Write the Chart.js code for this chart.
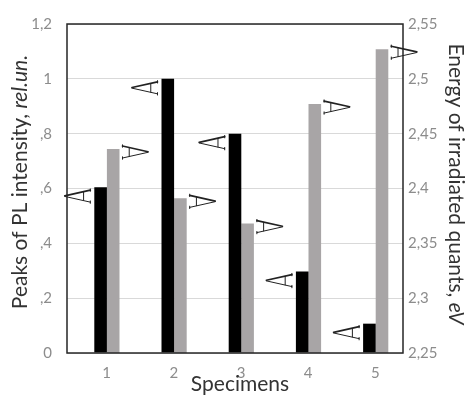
<!DOCTYPE html>
<html>
<head>
<meta charset="utf-8">
<script src="https://cdn.jsdelivr.net/npm/chart.js@4/dist/chart.umd.min.js"></script>
<style>
html,body{margin:0;padding:0;background:#fff;}
#c{display:block;}
</style>
</head>
<body>
<canvas id="c" width="471" height="397"></canvas>
<script>
// ---- data ----
const categories = ['1', '2', '3', '4', '5'];
const plIntensity = [0.605, 1.0, 0.80, 0.297, 0.107];      // left axis, black bars
const quantEnergy = [2.436, 2.391, 2.368, 2.477, 2.527];   // right axis, gray bars
const leftTickLabels = ['0', ',2', ',4', ',6', ',8', '1', '1,2'];
const rightTickLabels = ['2,25', '2,3', '2,35', '2,4', '2,45', '2,5', '2,55'];
const xTitle = 'Specimens';
const leftTitle = ['Peaks of PL intensity, ', 'rel.un.'];
const rightTitle = ['Energy of irradiated quants, ', 'eV'];

const FONT = 'Lato, "Open Sans", sans-serif';
const GRAY = '#a8a5a6';

function drawArrow(ctx, apexX, y, dir) {
  // dir = -1 : apex on the left ; dir = +1 : apex on the right
  const L = 24, h = 6;
  const bx = apexX - dir * L;
  const cx = apexX - dir * L * 0.72;
  ctx.save();
  ctx.strokeStyle = '#222222';
  ctx.lineCap = 'round';
  ctx.lineWidth = 1.7;
  ctx.beginPath();
  ctx.moveTo(apexX + dir * 1.5, y - 0.3);
  ctx.lineTo(bx, y - h);
  ctx.stroke();
  ctx.lineWidth = 1.0;
  ctx.beginPath();
  ctx.moveTo(apexX + dir * 1.5, y + 0.3);
  ctx.lineTo(bx, y + h);
  ctx.moveTo(cx, y - h * 0.72);
  ctx.lineTo(cx, y + h * 0.72);
  ctx.moveTo(bx, y - h - 1.2);
  ctx.lineTo(bx, y - h + 1.2);
  ctx.moveTo(bx, y + h - 1.2);
  ctx.lineTo(bx, y + h + 1.2);
  ctx.stroke();
  ctx.restore();
}

function drawMixed(ctx, parts, cx, cy, angle) {
  ctx.save();
  ctx.translate(cx, cy);
  ctx.rotate(angle);
  ctx.textAlign = 'left';
  ctx.textBaseline = 'middle';
  ctx.fillStyle = '#333333';
  let total = 0;
  parts.forEach(p => { ctx.font = p.font; p.w = ctx.measureText(p.text).width; total += p.w; });
  let x = -total / 2;
  parts.forEach(p => { ctx.font = p.font; ctx.fillText(p.text, x, 0); x += p.w; });
  ctx.restore();
}

const decor = {
  id: 'decor',
  afterDatasetsDraw(chart) {
    const ctx = chart.ctx, a = chart.chartArea;
    ctx.save();
    ctx.strokeStyle = '#262626';
    ctx.lineWidth = 1.5;
    ctx.strokeRect(a.left, a.top, a.right - a.left, a.bottom - a.top);
    ctx.restore();
    chart.getDatasetMeta(1).data.forEach(b => {
      drawArrow(ctx, b.x - b.width / 2 - 4 - 24, b.y + 9, -1);
    });
    chart.getDatasetMeta(2).data.forEach(b => {
      drawArrow(ctx, b.x + b.width / 2 + 3 + 24, b.y + 3, 1);
    });
  },
  afterDraw(chart) {
    const ctx = chart.ctx;
    const n = '21px ' + FONT, it = 'italic 21px ' + FONT;
    drawMixed(ctx, [{text: leftTitle[0], font: n}, {text: leftTitle[1], font: it}], 20, 182, -Math.PI / 2);
    drawMixed(ctx, [{text: rightTitle[0], font: n}, {text: rightTitle[1], font: it}], 456, 184, Math.PI / 2);
    drawMixed(ctx, [{text: xTitle, font: '21px ' + FONT}], 240, 384, 0);
  }
};

new Chart(document.getElementById('c'), {
  type: 'bar',
  data: {
    labels: categories,
    datasets: [
      {label: '', data: categories.map(() => null), yAxisID: 'y', stack: 'pad',
       backgroundColor: 'rgba(0,0,0,0)'},
      {label: 'PL peak', data: plIntensity, yAxisID: 'y', stack: 'pl',
       backgroundColor: '#000000'},
      {label: 'Energy', data: quantEnergy, yAxisID: 'y1', stack: 'en',
       backgroundColor: GRAY}
    ]
  },
  options: {
    responsive: false,
    animation: false,
    devicePixelRatio: 1,
    layout: {padding: {top: 20, left: 0, right: 0, bottom: 0}},
    datasets: {bar: {categoryPercentage: 0.5625, barPercentage: 1.0}},
    plugins: {legend: {display: false}, tooltip: {enabled: false}, title: {display: false}},
    scales: {
      x: {
        type: 'category',
        offset: true,
        grid: {display: false, drawTicks: false},
        border: {display: false},
        ticks: {color: '#8c8c8c', font: {family: FONT, size: 15}, padding: 11, labelOffset: 6},
        afterFit(s) { s.height = 44; }
      },
      y: {
        position: 'left',
        min: 0, max: 1.2,
        grid: {color: '#d9d9d9', lineWidth: 1, drawTicks: false},
        border: {display: false},
        ticks: {stepSize: 0.2, color: '#8c8c8c', font: {family: FONT, size: 15}, padding: 15,
                callback: (v, i) => leftTickLabels[i]},
        afterFit(s) { s.width = 67; }
      },
      y1: {
        position: 'right',
        min: 2.25, max: 2.55,
        grid: {display: false, drawTicks: false},
        border: {display: false},
        ticks: {stepSize: 0.05, color: '#8c8c8c', font: {family: FONT, size: 15}, padding: 5,
                callback: (v, i) => rightTickLabels[i]},
        afterFit(s) { s.width = 68; }
      }
    }
  },
  plugins: [decor]
});
</script>
</body>
</html>
